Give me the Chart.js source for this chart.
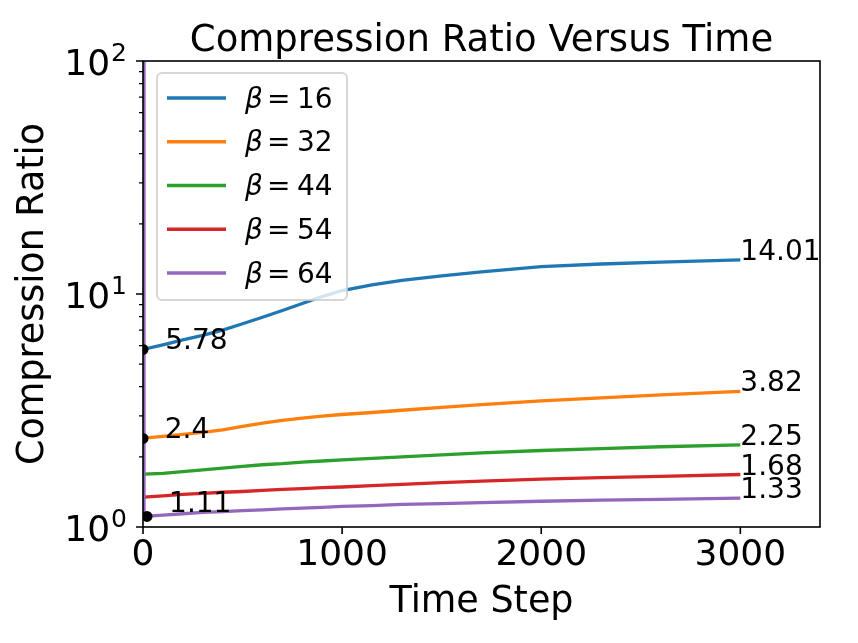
<!DOCTYPE html>
<html>
<head>
<meta charset="utf-8">
<script src="https://cdn.jsdelivr.net/npm/chart.js@4.4.1/dist/chart.umd.min.js"></script>
<style>
	html, body { margin: 0; padding: 0; background: #fff; }
	#wrap { width: 858px; height: 643px; }
</style>
</head>
<body>
<div id="wrap"><canvas id="chart" width="858" height="643"></canvas></div>
<script>
//Data
var timeSteps = [0, 5, 100, 200, 300, 400, 500, 600, 700, 800, 900, 1000, 1150, 1300, 1500, 1700, 2000, 2300, 2600, 3000];
var betas = [16, 32, 44, 54, 64];
var ratioBeta16 = [5.78, 5.8, 6.05, 6.35, 6.65, 7.0, 7.45, 7.95, 8.5, 9.1, 9.75, 10.35, 10.95, 11.45, 11.95, 12.45, 13.1, 13.45, 13.7, 14.01];
var ratioBeta32 = [2.4, 2.41, 2.45, 2.5, 2.55, 2.61, 2.7, 2.79, 2.87, 2.93, 2.99, 3.04, 3.1, 3.17, 3.26, 3.35, 3.48, 3.58, 3.69, 3.82];
var ratioBeta44 = [1.68, 1.685, 1.7, 1.73, 1.76, 1.79, 1.82, 1.85, 1.87, 1.9, 1.92, 1.94, 1.97, 2.0, 2.04, 2.08, 2.13, 2.17, 2.21, 2.25];
var ratioBeta54 = [1.34, 1.345, 1.36, 1.38, 1.395, 1.41, 1.42, 1.435, 1.45, 1.46, 1.475, 1.485, 1.505, 1.525, 1.55, 1.575, 1.605, 1.63, 1.65, 1.68];
var ratioBeta64 = [300, 1.11, 1.125, 1.14, 1.155, 1.165, 1.175, 1.185, 1.195, 1.205, 1.215, 1.225, 1.235, 1.25, 1.26, 1.272, 1.29, 1.305, 1.315, 1.33];
var seriesColors = ['#1f77b4', '#ff7f0e', '#2ca02c', '#d62728', '#9467bd'];

//start markers and their labels
var startSteps = [0, 0, 20];
var startValues = [5.78, 2.4, 1.11];
var startLabelSteps = [112, 109, 131];
var startLabelValues = [5.78, 2.4, 1.155];

var xTicks = [0, 1000, 2000, 3000];
var yTickExps = [0, 1, 2];
var yMinor = [2, 3, 4, 5, 6, 7, 8, 9, 20, 30, 40, 50, 60, 70, 80, 90];

var FONT = '"DejaVu Sans", sans-serif';
var allSeries = [ratioBeta16, ratioBeta32, ratioBeta44, ratioBeta54, ratioBeta64];

function toPoints(xs, ys) {
	return xs.map(function (x, i) { return { x: x, y: ys[i] }; });
}

var datasets = allSeries.map(function (vals, i) {
	return {
		label: 'β = ' + betas[i],
		data: toPoints(timeSteps, vals),
		borderColor: seriesColors[i],
		backgroundColor: seriesColors[i],
		borderWidth: 3.3,
		pointRadius: 0,
		pointHoverRadius: 0,
		tension: 0,
		fill: false,
		order: betas.length - i,
		clip: 0
	};
});
datasets.push({
	label: '_start',
	data: toPoints(startSteps, startValues),
	showLine: false,
	pointRadius: 5.5,
	pointBorderWidth: 0,
	backgroundColor: '#000',
	borderColor: '#000',
	order: 0,
	clip: 0
});

//Drawing of spines, ticks, legend and texts
var decorPlugin = {
	id: 'decor',
	afterDraw: function (chart) {
		var ctx = chart.ctx;
		var a = chart.chartArea;
		var xs = chart.scales.x;
		var ys = chart.scales.y;
		ctx.save();

		//ticks
		ctx.strokeStyle = '#000';
		ctx.lineWidth = 1.6;
		ctx.beginPath();
		xTicks.forEach(function (v) {
			var px = xs.getPixelForValue(v);
			ctx.moveTo(px, a.bottom);
			ctx.lineTo(px, a.bottom + 7);
		});
		yTickExps.forEach(function (e) {
			var py = ys.getPixelForValue(Math.pow(10, e));
			ctx.moveTo(a.left, py);
			ctx.lineTo(a.left - 7, py);
		});
		ctx.stroke();
		ctx.lineWidth = 1.2;
		ctx.beginPath();
		yMinor.forEach(function (v) {
			var py = ys.getPixelForValue(v);
			ctx.moveTo(a.left, py);
			ctx.lineTo(a.left - 4, py);
		});
		ctx.stroke();

		//spines
		ctx.lineWidth = 1.6;
		ctx.strokeRect(a.left, a.top, a.right - a.left, a.bottom - a.top);

		//y tick labels 10^n
		ctx.fillStyle = '#000';
		ctx.textBaseline = 'alphabetic';
		ctx.textAlign = 'right';
		yTickExps.forEach(function (e) {
			var py = ys.getPixelForValue(Math.pow(10, e));
			ctx.font = '25px ' + FONT;
			var sup = String(e);
			var supW = ctx.measureText(sup).width;
			ctx.fillText(sup, 127, py);
			ctx.font = '36px ' + FONT;
			ctx.fillText('10', 127 - supW - 1, py + 13.5);
		});

		//value labels
		ctx.textAlign = 'left';
		ctx.font = '28px ' + FONT;
		startLabelSteps.forEach(function (s, i) {
			ctx.fillText(String(startValues[i]), xs.getPixelForValue(s), ys.getPixelForValue(startLabelValues[i]));
		});
		allSeries.forEach(function (vals) {
			var last = vals[vals.length - 1];
			ctx.fillText(String(last), xs.getPixelForValue(timeSteps[timeSteps.length - 1]), ys.getPixelForValue(last));
		});

		//legend
		var lx = 157, ly = 73, lw = 190, lh = 227;
		ctx.beginPath();
		ctx.roundRect(lx, ly, lw, lh, 5);
		ctx.fillStyle = 'rgba(255,255,255,0.8)';
		ctx.fill();
		ctx.strokeStyle = 'rgba(204,204,204,0.8)';
		ctx.lineWidth = 2;
		ctx.stroke();
		betas.forEach(function (b, i) {
			var ry = 98 + i * 43.75;
			ctx.strokeStyle = seriesColors[i];
			ctx.lineWidth = 3.3;
			ctx.beginPath();
			ctx.moveTo(167, ry);
			ctx.lineTo(226, ry);
			ctx.stroke();
			ctx.fillStyle = '#000';
			ctx.font = 'italic 28px ' + FONT;
			ctx.fillText('β', 245, ry + 9.5);
			ctx.font = '28px ' + FONT;
			ctx.fillText('=', 267, ry + 9.5);
			ctx.fillText(String(b), 297, ry + 9.5);
		});

		//title and axis titles
		var cx = (a.left + a.right) / 2;
		ctx.textAlign = 'center';
		ctx.font = '37px ' + FONT;
		ctx.fillText('Compression Ratio Versus Time', cx, 51);
		ctx.font = '36.5px ' + FONT;
		ctx.fillText('Time Step', cx, 612);
		ctx.save();
		ctx.translate(43, (a.top + a.bottom) / 2);
		ctx.rotate(-Math.PI / 2);
		ctx.fillText('Compression Ratio', 0, 0);
		ctx.restore();

		ctx.restore();
	}
};

new Chart(document.getElementById('chart'), {
	type: 'line',
	data: { datasets: datasets },
	options: {
		responsive: false,
		animation: false,
		events: [],
		layout: { padding: { top: 61, right: 38, left: 0, bottom: 0 } },
		plugins: {
			legend: { display: false },
			tooltip: { enabled: false },
			title: { display: false }
		},
		scales: {
			x: {
				type: 'linear',
				min: 0,
				max: 3400,
				grid: { display: false, drawTicks: false },
				border: { display: false },
				afterBuildTicks: function (s) {
					s.ticks = xTicks.map(function (v) { return { value: v }; });
				},
				ticks: {
					color: '#000',
					font: { family: FONT, size: 36 },
					padding: 7,
					maxRotation: 0,
					autoSkip: false,
					callback: function (v) { return String(v); }
				},
				afterFit: function (s) { s.height = 116; }
			},
			y: {
				type: 'logarithmic',
				min: 1,
				max: 100,
				grid: { display: false, drawTicks: false },
				border: { display: false },
				ticks: { display: false },
				afterFit: function (s) { s.width = 143; }
			}
		}
	},
	plugins: [decorPlugin]
});
</script>
</body>
</html>
